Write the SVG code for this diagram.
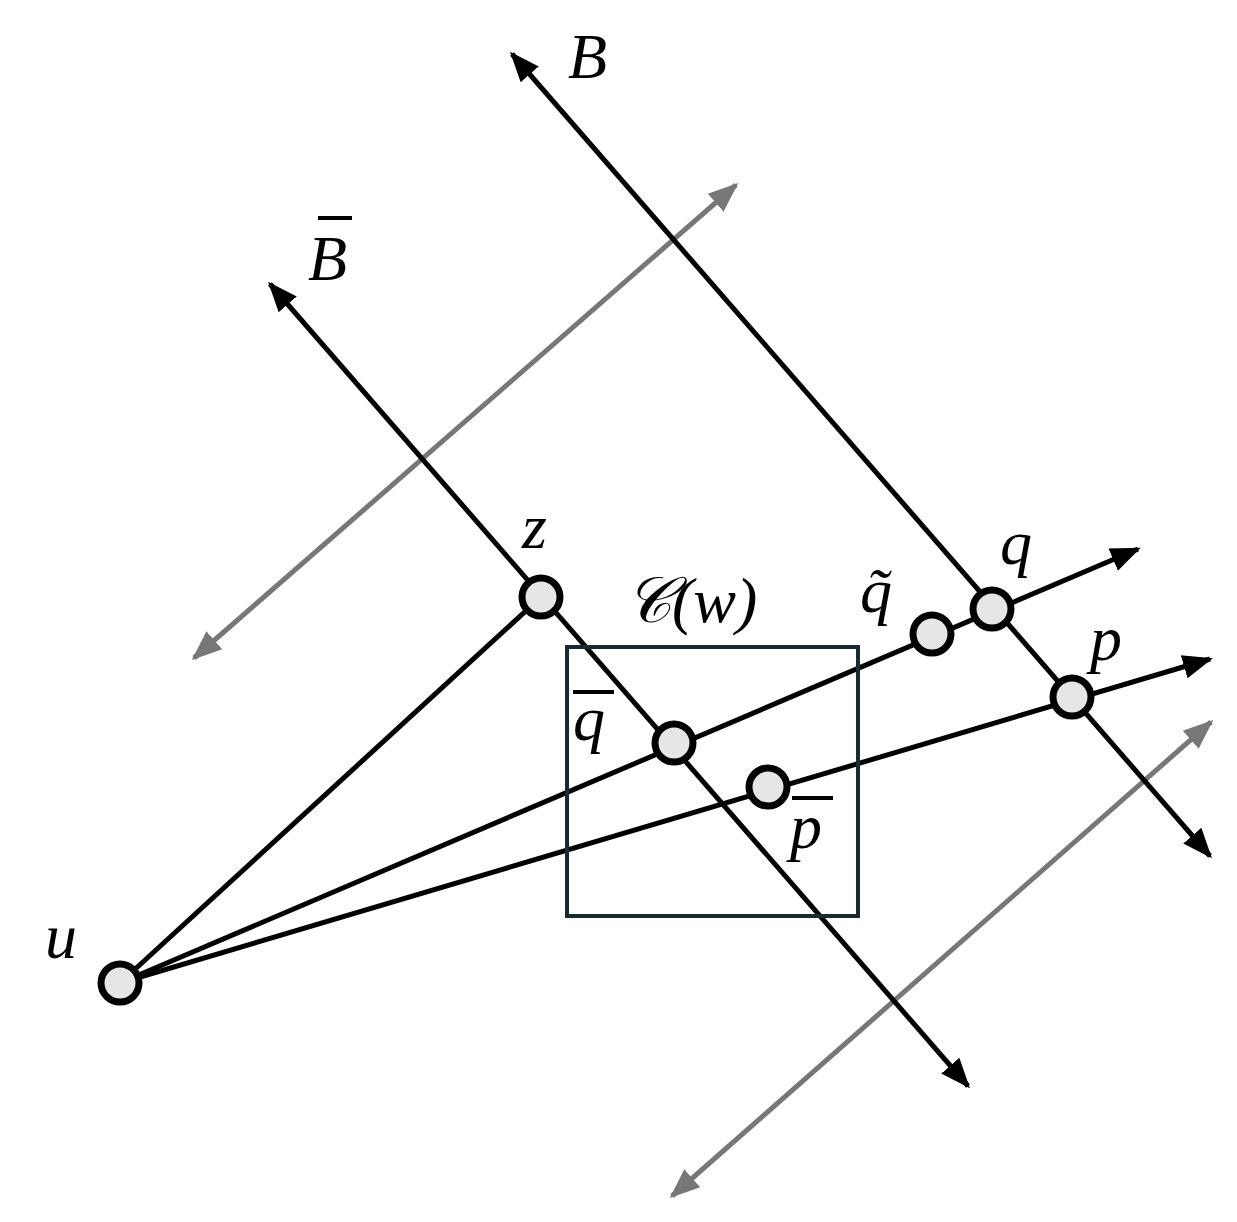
<svg xmlns="http://www.w3.org/2000/svg" width="1237" height="1222" viewBox="0 0 1237 1222">
<style>
.l{stroke:#000;stroke-width:5;fill:none}
.g{stroke:#777;stroke-width:5;fill:none}
.n{fill:#e6e6e6;stroke:#000;stroke-width:7}
.t{font-family:"Liberation Serif",serif;font-style:italic;font-size:64px;fill:#000}
</style>
<defs>
<marker id="a" viewBox="0 0 10 10" refX="9" refY="5" markerWidth="6" markerHeight="6" orient="auto-start-reverse" markerUnits="strokeWidth"><path d="M0,1 L10,5 L0,9 z" fill="#000"/></marker>
<marker id="ag" viewBox="0 0 10 10" refX="9" refY="5" markerWidth="6" markerHeight="6" orient="auto-start-reverse" markerUnits="strokeWidth"><path d="M0,1 L10,5 L0,9 z" fill="#777"/></marker>
</defs>
<g id="connectors">
<line class="g" x1="194" y1="658" x2="736" y2="185" marker-start="url(#ag)" marker-end="url(#ag)"/>
<line class="g" x1="672" y1="1196" x2="1211" y2="722" marker-start="url(#ag)" marker-end="url(#ag)"/>
<line class="l" x1="270" y1="284" x2="968" y2="1086" marker-start="url(#a)" marker-end="url(#a)"/>
<line class="l" x1="512" y1="54" x2="1210" y2="856" marker-start="url(#a)" marker-end="url(#a)"/>
<line class="l" x1="120" y1="983" x2="541" y2="597"/>
<line class="l" x1="120" y1="983" x2="1138" y2="549" marker-end="url(#a)"/>
<line class="l" x1="120" y1="983" x2="1210" y2="659" marker-end="url(#a)"/>
</g>
<g id="box"><rect x="567" y="647" width="291" height="269" fill="none" stroke="#1a2a33" stroke-width="4"/></g>
<g id="u"><circle class="n" cx="120" cy="983" r="19"/><text class="t" x="45" y="958">u</text></g>
<g id="z"><circle class="n" cx="541" cy="597" r="19"/><text class="t" x="522" y="548">z</text></g>
<g id="qbar"><circle class="n" cx="674" cy="743" r="19"/><text class="t" x="573" y="740">q</text><line x1="573" y1="692" x2="614" y2="692" stroke="#000" stroke-width="4"/></g>
<g id="pbar"><circle class="n" cx="768" cy="787" r="19"/><text class="t" x="790" y="848">p</text><line x1="792" y1="798" x2="833" y2="798" stroke="#000" stroke-width="4"/></g>
<g id="qtilde"><circle class="n" cx="932" cy="634" r="19"/><text class="t" x="860" y="612">q̃</text></g>
<g id="q"><circle class="n" cx="992" cy="609" r="19"/><text class="t" x="1000" y="564">q</text></g>
<g id="p"><circle class="n" cx="1072" cy="697" r="19"/><text class="t" x="1090" y="660">p</text></g>
<g id="labels">
<text class="t" x="568" y="78">B</text>
<text class="t" x="308" y="280">B</text><line x1="318" y1="218" x2="352" y2="218" stroke="#000" stroke-width="4"/>
<text class="t" x="625" y="622" font-size="68">𝒞(w)</text>
</g>
</svg>
